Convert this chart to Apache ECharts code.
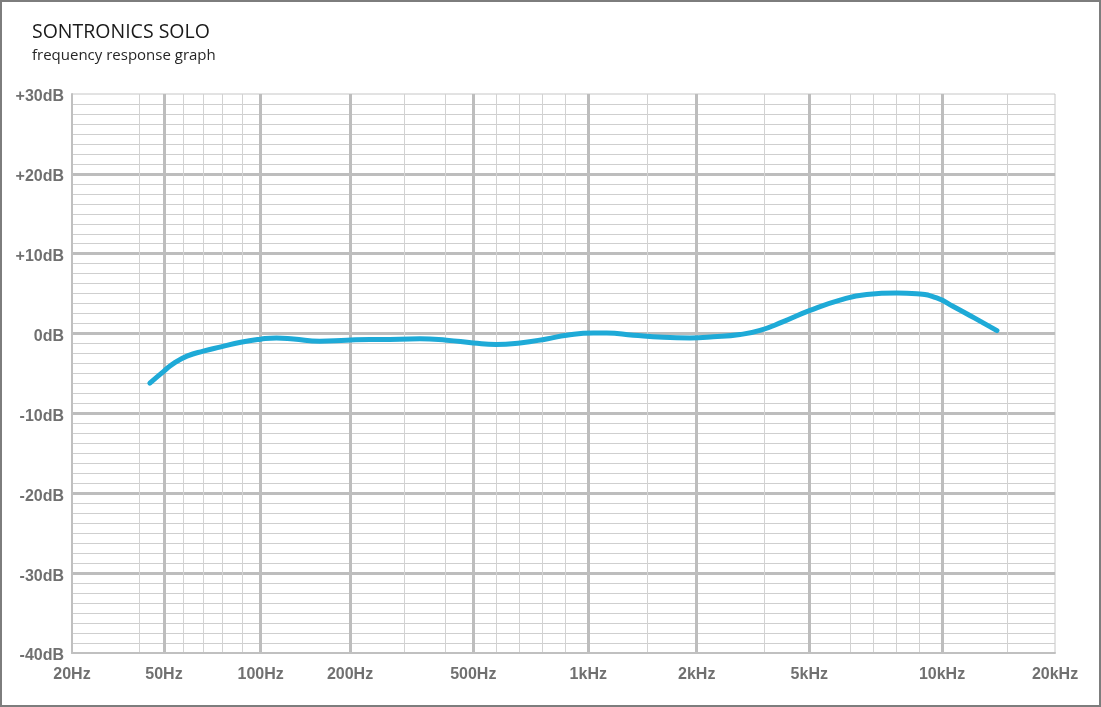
<!DOCTYPE html>
<html>
<head>
<meta charset="utf-8">
<script src="https://cdn.jsdelivr.net/npm/echarts@6/dist/echarts.min.js"></script>
<style>
html,body{margin:0;padding:0;background:#fff;}
#chart{width:1101px;height:707px;}
</style>
</head>
<body>
<div id="chart"></div>
<script>
// ---- data ----
const freqHz = [44, 50, 55, 62, 70, 79, 89, 100, 113, 129, 158, 195, 232, 250, 335, 405, 500, 600, 703, 818, 907, 1035, 1135, 1363, 1647, 1923, 2209, 2593, 2924, 3722, 5015, 5724, 6692, 8000, 8879, 9757, 10727, 12218, 14068];
const levelDb = [-6.2, -4.7, -3.7, -2.8, -2.2, -1.67, -1.08, -0.7, -0.54, -0.67, -0.96, -0.83, -0.75, -0.75, -0.65, -0.83, -1.17, -1.37, -1.17, -0.67, -0.2, 0.08, 0.08, -0.2, -0.46, -0.54, -0.41, -0.12, 0.4, 1.5, 2.9, 4.2, 4.9, 5.08, 5.0, 4.46, 3.4, 1.96, 0.37];

const majorHz = [20, 50, 100, 200, 500, 1000, 2000, 5000, 10000, 20000];
const majorLabels = ['20Hz', '50Hz', '100Hz', '200Hz', '500Hz', '1kHz', '2kHz', '5kHz', '10kHz', '20kHz'];
const minorHz = [40, 60, 70, 80, 90, 300, 400, 600, 700, 800, 900, 1500, 3000, 6000, 7000, 8000, 9000, 15000];
const dbMin = -40, dbMax = 30, dbStep = 10;

// ---- graph-paper frequency scale (knots of the printed grid) ----
const knotHz  = [20, 40, 50, 60, 70, 80, 90, 100, 200, 300, 400, 500, 600, 700, 800, 900, 1000, 1500, 2000, 3000, 5000, 6000, 7000, 8000, 9000, 10000, 15000, 20000];
const knotPos = [0, 67.3, 92, 111.3, 131.3, 150.7, 170.7, 188.7, 278, 332.3, 373, 401.3, 424, 447.3, 470.3, 493, 516.3, 575.3, 624.7, 692.3, 737.3, 778.7, 801.3, 824.7, 847.3, 870, 935.3, 983];
function toPos(hz) {
  for (let i = 0; i < knotHz.length - 1; i++) {
    if (hz <= knotHz[i + 1]) {
      const t = Math.log(hz / knotHz[i]) / Math.log(knotHz[i + 1] / knotHz[i]);
      return knotPos[i] + t * (knotPos[i + 1] - knotPos[i]);
    }
  }
  return knotPos[knotPos.length - 1];
}
const xMin = toPos(majorHz[0]);
const xMax = toPos(majorHz[majorHz.length - 1]);
const majorPos = majorHz.map(toPos);
const minorPos = minorHz.map(toPos);
const seriesData = freqHz.map((f, i) => [toPos(f), levelDb[i]]);

const chart = echarts.init(document.getElementById('chart'), null, {renderer: 'canvas'});
const labelStyle = {color: '#707070', fontSize: 16, fontWeight: 'bold', fontFamily: '"Liberation Sans", Arial, sans-serif'};

chart.setOption({
  backgroundColor: '#fff',
  animation: false,
  title: {
    left: 27, top: 17,
    text: 'SONTRONICS SOLO',
    subtext: 'frequency response graph',
    itemGap: 6,
    textStyle: {color: '#1a1a1a', fontSize: 19.5, fontWeight: 'normal', fontFamily: '"Open Sans", Lato, sans-serif'},
    subtextStyle: {color: '#262626', fontSize: 15, fontWeight: 'normal', fontFamily: '"Open Sans", Lato, sans-serif'}
  },
  graphic: [{
    type: 'rect', silent: true,
    shape: {x: 1, y: 1, width: 1099, height: 705},
    style: {fill: 'none', stroke: '#7d7d7d', lineWidth: 2}
  }],
  grid: {
    left: 72, right: 46, top: 94, bottom: 54,
    show: true, borderColor: '#c6c6c6', borderWidth: 1
  },
  xAxis: [{
    type: 'value', min: xMin, max: xMax, position: 'bottom',
    axisLine: {show: true, onZero: false, lineStyle: {color: '#c0c0c0', width: 2}},
    axisTick: {show: false, customValues: majorPos.slice(1, -1)},
    splitLine: {show: true, lineStyle: {color: '#bdbdbd', width: 3}},
    axisLabel: {
      show: true, margin: 14, customValues: majorPos, ...labelStyle,
      formatter: v => {
        const i = majorPos.findIndex(p => Math.abs(p - v) < 0.01);
        return i >= 0 ? majorLabels[i] : '';
      }
    }
  }, {
    type: 'value', min: xMin, max: xMax, position: 'bottom',
    axisLine: {show: false},
    axisTick: {show: false, customValues: minorPos},
    splitLine: {show: true, lineStyle: {color: '#d2d2d2', width: 1}},
    axisLabel: {show: false}
  }],
  yAxis: {
    type: 'value', min: dbMin, max: dbMax, interval: dbStep,
    axisLine: {show: true, lineStyle: {color: '#c0c0c0', width: 2}},
    axisTick: {show: false},
    splitLine: {show: true, showMinLine: false, showMaxLine: false, lineStyle: {color: '#bdbdbd', width: 3}},
    minorTick: {show: false, splitNumber: 8},
    minorSplitLine: {show: true, lineStyle: {color: '#cfcfcf', width: 1}},
    axisLabel: {
      margin: 8, ...labelStyle,
      formatter: v => '{d|' + (v > 0 ? '+' : '') + v + 'dB}',
      rich: {d: {...labelStyle, lineHeight: 16, padding: [6, 0, 0, 0]}}
    }
  },
  series: [{
    type: 'line',
    xAxisIndex: 0,
    data: seriesData,
    smooth: 0.5,
    symbol: 'none',
    lineStyle: {color: '#1eaad7', width: 5, cap: 'round', join: 'round'},
    z: 5
  }]
});
</script>
</body>
</html>
